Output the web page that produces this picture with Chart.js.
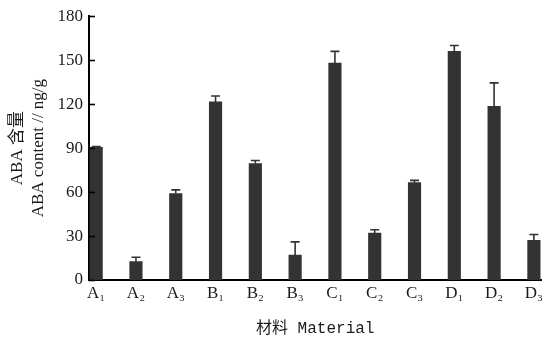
<!DOCTYPE html>
<html>
<head>
<meta charset="utf-8">
<script src="https://cdn.jsdelivr.net/npm/chart.js@4"></script>
<style>
html,body{margin:0;padding:0;background:#fff;}
#wrap{width:546px;height:344px;position:relative;}
</style>
</head>
<body>
<div id="wrap"><canvas id="c" width="546" height="344"></canvas></div>
<script>
const categories = ["A₁","A₂","A₃","B₁","B₂","B₃","C₁","C₂","C₃","D₁","D₂","D₃"];
const abaValues = [90.5, 12.5, 59, 121.5, 79.5, 17, 148, 32, 66.5, 156, 118.5, 27];
const abaErrors = [0.5, 3, 2.5, 4, 2, 9, 8, 2.3, 1.5, 4, 16, 4];
const yTickValues = [0, 30, 60, 90, 120, 150, 180];

const barColor = '#333333';
const serif = "'Liberation Serif', 'Noto Sans CJK SC', serif";

const errorBars = {
  id: 'errorBars',
  afterDatasetsDraw(chart) {
    const {ctx, scales: {x, y}} = chart;
    ctx.save();
    ctx.strokeStyle = barColor;
    ctx.lineWidth = 1.6;
    abaValues.forEach((v, i) => {
      const px = x.getPixelForValue(i);
      const y0 = y.getPixelForValue(v);
      const y1 = y.getPixelForValue(v + abaErrors[i]);
      ctx.beginPath();
      ctx.moveTo(px, y0);
      ctx.lineTo(px, y1);
      ctx.moveTo(px - 4.5, y1);
      ctx.lineTo(px + 4.5, y1);
      ctx.stroke();
    });
    ctx.restore();
  }
};

const inwardTicks = {
  id: 'inwardTicks',
  afterDraw(chart) {
    const {ctx, chartArea, scales: {y}} = chart;
    ctx.save();
    ctx.strokeStyle = '#000';
    ctx.lineWidth = 1.6;
    yTickValues.forEach(v => {
      const py = Math.round(y.getPixelForValue(v)) + 0.5;
      ctx.beginPath();
      ctx.moveTo(chartArea.left, py);
      ctx.lineTo(chartArea.left + 6, py);
      ctx.stroke();
    });
    ctx.restore();
  }
};

new Chart(document.getElementById('c'), {
  type: 'bar',
  data: {
    datasets: [{
      data: abaValues.map((v, i) => ({x: i, y: v})),
      backgroundColor: barColor,
      borderWidth: 0,
      barThickness: 12.5
    }]
  },
  options: {
    responsive: false,
    animation: false,
    layout: {padding: {top: 13, right: 0, left: 0, bottom: 0}},
    plugins: {legend: {display: false}, tooltip: {enabled: false}},
    scales: {
      x: {
        type: 'linear',
        offset: false,
        min: -0.18,
        max: 11.19,
        afterBuildTicks: s => { s.ticks = categories.map((_, i) => ({value: i})); },
        afterFit: s => { s.height = 64; },
        grid: {display: false, drawTicks: false, offset: false},
        border: {display: true, color: '#000', width: 2},
        ticks: {
          autoSkip: false,
          maxRotation: 0,
          padding: 3,
          color: '#1a1a1a',
          font: {family: serif, size: 17},
          callback: v => categories[v]
        },
        title: {
          display: true,
          text: '材料 Material',
          color: '#1a1a1a',
          font: {family: "'Liberation Mono', 'Noto Sans CJK SC', monospace", size: 16},
          padding: {top: 0, bottom: 6}
        }
      },
      y: {
        min: 0,
        max: 180,
        afterBuildTicks: s => { s.ticks = yTickValues.map(v => ({value: v})); },
        afterFit: s => { s.width = 89; },
        grid: {display: false, drawTicks: false},
        border: {display: true, color: '#000', width: 2},
        ticks: {
          padding: 6,
          color: '#1a1a1a',
          font: {family: serif, size: 17}
        },
        title: {
          display: true,
          text: ['ABA 含量', 'ABA content // ng/g'],
          color: '#1a1a1a',
          font: {family: serif, size: 17, lineHeight: 1.18},
          padding: {top: 8, bottom: 0}
        }
      }
    }
  },
  plugins: [errorBars, inwardTicks]
});
</script>
</body>
</html>
